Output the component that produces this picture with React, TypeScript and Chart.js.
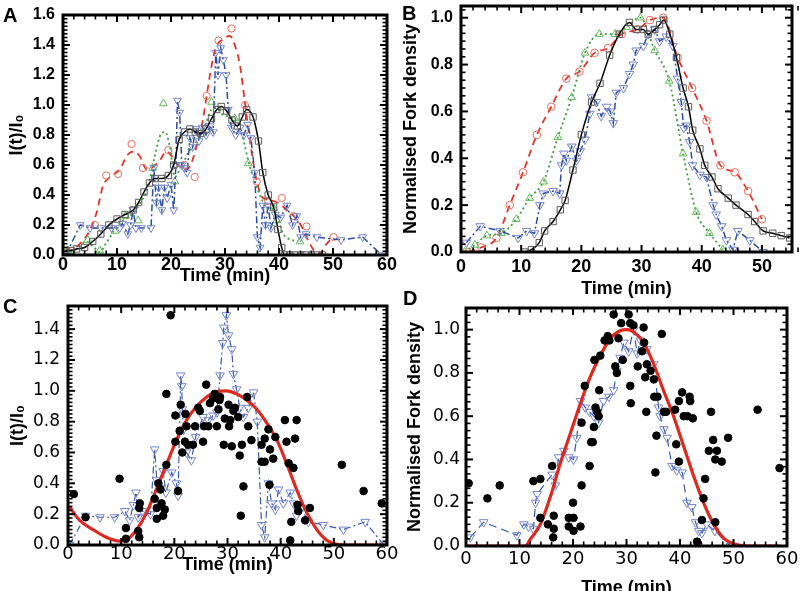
import React, { useEffect, useRef } from 'react';
import { Chart, registerables } from 'chart.js';
Chart.register(...registerables);

type P = [number, number][];

const SANS = "'Liberation Sans', Arial, sans-serif";
const WIDE = "'DejaVu Sans', sans-serif";

// ---------- Panel A ----------
const A_X_TICKS = [0, 10, 20, 30, 40, 50, 60];
const A_Y_TICKS = [0, 0.2, 0.4, 0.6, 0.8, 1.0, 1.2, 1.4, 1.6];
const A_BLACK: P = [[0.5,0.03],[1.5,0.03],[2.5,0.04],[4,0.05],[5.5,0.09],[7,0.14],[8.5,0.2],[10,0.24],[11.5,0.27],[13,0.3],[14,0.35],[15,0.42],[16,0.48],[17,0.51],[18.3,0.51],[19.5,0.53],[20.5,0.6],[21.5,0.77],[22.5,0.82],[23.5,0.84],[24.5,0.82],[25.5,0.81],[26.5,0.84],[27.5,0.91],[28.5,0.97],[29.3,0.99],[30.3,0.96],[31.3,0.9],[32.3,0.86],[33.2,0.92],[34,0.97],[35.2,0.92],[36.2,0.76],[37,0.55],[38,0.4],[39,0.32],[39.8,0.17],[40.5,0.05],[41,0],[42,0],[43,0],[44,0],[45,0],[46,0],[47,0],[48,0]];
const A_RED_LINE: P = [[0.5,0.02],[2,0.04],[3.5,0.09],[4.6,0.14],[6.2,0.28],[7.4,0.46],[8.7,0.52],[10.5,0.57],[12,0.67],[13,0.69],[14.2,0.66],[15.5,0.57],[16.4,0.58],[17.9,0.63],[19.2,0.69],[20.1,0.66],[21.3,0.6],[22.6,0.57],[23.5,0.59],[24.7,0.72],[25.7,0.86],[26.6,1.06],[27.5,1.26],[28.4,1.39],[29.7,1.44],[30.9,1.46],[31.9,1.39],[32.8,1.26],[33.7,1.01],[34.6,0.77],[35.6,0.54],[36.8,0.39],[37.7,0.37],[39,0.36],[40.2,0.34],[41.4,0.3],[42.7,0.26],[44.2,0.19],[45.5,0.09],[46.7,0.02],[47.6,0.01],[48.5,0.06],[49.5,0.1],[50.1,0.12]];
const A_RED_PTS: P = [[1,0.02],[5.9,0.2],[8,0.53],[10.2,0.54],[12.7,0.74],[14.8,0.58],[19.5,0.7],[22.5,0.6],[24.4,0.52],[26.6,1.06],[28.8,1.43],[31.2,1.51],[33.7,1.0],[35.9,0.49],[38,0.36],[40.5,0.38],[42.7,0.26],[45.1,0.19],[50.1,0.12]];
const A_GREEN_LINE: P = [[0.5,0.01],[2.5,0.04],[4.3,0.09],[5.5,0.06],[6.8,0.02],[8,0.08],[9.6,0.17],[11.1,0.23],[13,0.28],[14.2,0.34],[15.8,0.46],[17,0.66],[18.2,0.81],[18.9,0.82],[19.8,0.72],[20.7,0.52],[21.9,0.59],[23.5,0.7],[25,0.77],[26.3,0.86],[27.5,0.97],[28.4,0.98],[29.4,0.94],[30.9,0.92],[32.2,0.89],[33.4,0.77],[34.3,0.63],[35.6,0.48],[36.8,0.37],[37.7,0.31],[38.7,0.31],[39.6,0.26],[40.8,0.14],[42.4,0.1],[43.6,0.09]];
const A_GREEN_PTS: P = [[0.9,0.03],[4.6,0.1],[6.8,0.03],[9.6,0.16],[11.6,0.26],[13.9,0.23],[16.6,0.58],[18.6,1.01],[20.7,0.49],[27.5,1.02],[31.8,0.91],[34.3,0.61],[39,0.31],[39.6,0.23],[43.9,0.09]];
const A_BLUE: P = [[0.5,0],[3.2,0.2],[5,0.18],[7,0.18],[9,0.18],[10.5,0.18],[11,0.21],[12,0.14],[12.5,0.2],[13,0.3],[13.5,0.18],[14.5,0.18],[16.3,0.18],[16.8,0.58],[17.3,0.35],[17.7,0.45],[18.3,0.3],[18.8,0.45],[19.3,0.38],[20,0.47],[20.5,0.3],[20.9,0.6],[21.2,1.03],[21.6,0.95],[22,0.6],[22.5,0.58],[23,0.55],[23.5,0.78],[24,0.72],[24.6,0.84],[25.2,0.76],[25.8,0.85],[26.5,0.8],[27.2,0.86],[27.8,0.82],[28.3,1.35],[28.7,1.2],[29.2,1.38],[29.7,1.3],[30.2,1.2],[30.6,0.97],[31.2,0.85],[32,0.8],[32.8,0.85],[33.5,0.8],[34.2,0.87],[34.8,0.78],[35.5,0.55],[36,0.12],[36.5,0.05],[37,0.33],[37.5,0.2],[38,0.33],[38.5,0.18],[39.3,0.27],[40.3,0.25],[41.5,0.33],[42.5,0.2],[43.3,0.26],[44,0.12],[45,0.14],[47,0.12],[51.5,0.1],[55.5,0.12],[59,0]];

// ---------- Panel B ----------
const B_X_TICKS = [0, 10, 20, 30, 40, 50];
const B_Y_TICKS = [0, 0.2, 0.4, 0.6, 0.8, 1.0];
const B_BLACK: P = [[10.6,0],[11.7,0.01],[13,0.04],[13.9,0.09],[15.3,0.13],[16.5,0.18],[17.3,0.22],[18.6,0.35],[20,0.5],[21.7,0.64],[23.1,0.72],[24.7,0.84],[26.3,0.93],[28,0.98],[29.1,0.95],[30.3,0.95],[31.1,0.93],[32.2,0.95],[33,0.97],[33.7,0.99],[34.7,0.93],[35.8,0.83],[36.9,0.7],[37.8,0.62],[38.5,0.52],[39.7,0.44],[40.5,0.37],[41.7,0.32],[42.7,0.27],[44.4,0.23],[45.7,0.2],[47.7,0.16],[48.8,0.13],[50.2,0.09],[51.8,0.08],[53.2,0.07],[54.6,0.06]];
const B_RED: P = [[1.2,0],[3.4,0.02],[5.9,0.06],[8.1,0.2],[10.3,0.34],[12.6,0.5],[15,0.62],[17.5,0.74],[19.7,0.77],[22.2,0.85],[24.4,0.87],[26.7,0.93],[29.4,0.95],[31.4,0.99],[33.6,1.0],[36,0.83],[38.4,0.7],[40.8,0.56],[43.1,0.37],[45.5,0.34],[47.7,0.26],[50,0.14]];
const B_GREEN: P = [[0.6,0],[2.3,0.03],[4.3,0.07],[6.7,0.08],[9.2,0.14],[11.4,0.23],[13.7,0.3],[16.1,0.49],[18.4,0.66],[20.6,0.85],[23,0.93],[25.6,0.93],[27.5,0.96],[29.8,1.0],[32.2,0.86],[34.6,0.73],[36.9,0.42],[39.1,0.17],[41.3,0.08],[43.5,0.01]];
const B_BLUE: P = [[0.9,0.04],[3.2,0.11],[6.5,0.09],[9.5,0.06],[10.9,0.09],[12.2,0.08],[13.1,0.2],[13.7,0.25],[15.3,0.26],[16.4,0.25],[16.7,0.37],[17.1,0.42],[17.5,0.39],[18.4,0.45],[19.2,0.39],[19.8,0.43],[20.6,0.48],[21.4,0.59],[21.7,0.66],[22.5,0.64],[23.3,0.58],[24.2,0.62],[24.8,0.6],[25.3,0.55],[25.8,0.68],[27,0.7],[28,0.76],[28.6,0.8],[29.1,0.86],[30.3,0.88],[31.1,0.93],[32.2,0.95],[33,0.9],[34.1,0.92],[35.2,0.88],[36,0.74],[36.6,0.64],[37,0.53],[37.4,0.54],[38,0.47],[38.5,0.37],[39.7,0.33],[40.8,0.32],[41.9,0.2],[42.4,0.16],[43.3,0.11],[44.1,0.05],[45.2,0.01],[46,0.09],[48,0.05],[50.2,0]];

// ---------- Panel C ----------
const C_X_TICKS = [0, 10, 20, 30, 40, 50, 60];
const C_Y_TICKS = [0, 0.2, 0.4, 0.6, 0.8, 1.0, 1.2, 1.4];
const C_RED: P = [[0.2,0.25],[2.2,0.16],[4.7,0.1],[7.2,0.05],[9.7,0.025],[11.3,0.04],[12.9,0.1],[14.8,0.21],[16.6,0.36],[18.5,0.52],[20.4,0.68],[22.3,0.81],[24.2,0.9],[26.1,0.96],[27.9,0.995],[29.8,1.0],[31.7,0.98],[33.6,0.94],[35.5,0.88],[37.4,0.79],[39.3,0.68],[41.1,0.53],[43,0.36],[44.9,0.21],[46.8,0.1],[48.7,0.03],[50.6,0.005],[52.4,0],[56,0],[60,0]];
const C_BLUE: P = [[0.3,0],[3.3,0.19],[6,0.18],[8.8,0.18],[10.7,0.22],[11.6,0.16],[12.3,0.26],[12.8,0.34],[13.2,0.18],[14,0.22],[15.5,0.2],[16.3,0.62],[16.7,0.42],[17.3,0.37],[17.9,0.48],[18.4,0.34],[19.5,0.47],[20.4,0.4],[20.7,0.32],[21.2,1.1],[21.4,1.03],[21.5,0.88],[21.7,0.75],[22.3,0.6],[23.2,0.55],[24,0.7],[25.4,0.83],[26.4,0.81],[27.3,0.84],[28,0.86],[28.6,1.1],[29.1,1.31],[29.3,1.41],[29.8,1.49],[30.2,1.36],[30.8,1.27],[31.1,1.11],[31.7,1.01],[32.3,0.89],[33,0.83],[33.9,0.89],[34.9,0.99],[35.6,0.8],[36.4,0.13],[37,0.05],[37.7,0.4],[38.3,0.27],[39,0.23],[39.6,0.36],[40.5,0.27],[41.8,0.34],[42.4,0.27],[43,0.19],[43.9,0.24],[45.2,0.15],[48,0.13],[51.8,0.1],[55.9,0.15],[59.4,0]];
const C_DOTS: P = [[1.1,0.33],[3.3,0.18],[9.7,0.43],[10.9,0.11],[10.9,0.04],[13.2,0.09],[13.4,0.05],[13.5,0.27],[13.4,0.24],[16.3,0.3],[16.7,0.24],[16.7,0.17],[17,0.4],[17.4,0.36],[17.6,0.27],[17.9,0.19],[18.2,0.23],[18.5,0.52],[18.5,0.98],[19.3,1.49],[20.2,0.84],[20.2,0.67],[20.7,0.35],[21,0.74],[21.2,0.91],[21.5,0.6],[22,0.67],[22.1,0.85],[22.3,0.77],[22.6,0.65],[23.5,0.65],[23.9,0.77],[24.5,0.89],[24.8,0.87],[25.4,0.67],[25.6,0.77],[26,1.04],[26.4,0.77],[26.7,0.92],[27.3,0.95],[27.6,0.98],[28,0.77],[28.3,0.88],[28.5,0.94],[28.6,0.96],[29.3,0.65],[29.5,0.82],[30.2,0.91],[30.3,0.77],[30.5,0.81],[30.8,0.64],[31.1,0.87],[31.4,0.89],[32,0.83],[32.3,0.58],[32.7,0.65],[33,0.38],[32.5,0.19],[33.9,0.77],[33.7,0.96],[34.5,0.68],[36.4,0.65],[36.4,0.54],[37,0.54],[37,0.69],[37.7,0.75],[38,0.62],[37.9,0.39],[38.6,0.56],[39,0.7],[40.8,0.81],[41.1,0.67],[41.5,0.53],[41.8,0.03],[42,0.15],[42.4,0.5],[42.7,0.69],[43,0.81],[43.2,0.26],[43.3,0.22],[44.6,0.16],[45.5,0.24],[51.5,0.52],[55.6,0.35],[59,0.27]];

// ---------- Panel D ----------
const D_X_TICKS = [0, 10, 20, 30, 40, 50, 60];
const D_Y_TICKS = [0, 0.2, 0.4, 0.6, 0.8, 1.0];
const D_RED: P = [[0,0],[5,0],[11.1,0],[12,0.03],[13.9,0.1],[15.8,0.23],[17.6,0.38],[19.5,0.52],[21.4,0.66],[23.2,0.78],[25.1,0.88],[27,0.96],[28.8,0.995],[30.1,1.0],[31.3,0.99],[33.2,0.94],[35.1,0.84],[36.9,0.72],[38.8,0.6],[40.7,0.46],[42.6,0.32],[44.4,0.2],[46.3,0.1],[48.2,0.035],[50,0.01],[52.5,0],[58.8,0]];
const D_BLUE: P = [[0.8,0.04],[3.3,0.11],[9.5,0.05],[10.8,0.1],[11.7,0.09],[12.6,0.08],[13,0.2],[13.3,0.24],[16.1,0.33],[16.7,0.28],[17.3,0.41],[18.3,0.44],[19.2,0.41],[20.1,0.4],[20.7,0.5],[21.4,0.67],[22.3,0.64],[23.1,0.62],[23.9,0.6],[24.8,0.57],[25.7,0.67],[26.7,0.69],[27.6,0.72],[28.2,0.81],[28.8,0.87],[29.5,0.94],[30.4,0.9],[31.3,1.0],[32,0.89],[32.6,0.95],[33.8,0.91],[35.1,0.84],[36,0.64],[36.3,0.6],[37,0.54],[37.6,0.5],[38.5,0.37],[39.4,0.35],[40.4,0.34],[41.3,0.2],[42.2,0.18],[42.9,0.11],[43.5,0.07],[44.1,0.06],[45,0.1],[46.5,0.07],[49.4,0]];
const D_DOTS: P = [[0.5,0.29],[4,0.22],[6.3,0.28],[12.6,0.3],[13.9,0.31],[13.9,0.13],[15.3,0.1],[16.1,0.37],[16.4,0.14],[16.4,0.08],[16.3,0.04],[19.2,0.13],[19.2,0.09],[20,0.2],[20.1,0.13],[20.1,0.07],[21.4,0.09],[21.6,0.28],[21.6,0.57],[22.2,0.74],[23.1,0.37],[23.4,0.48],[23.7,0.48],[23.9,0.55],[24,0.86],[24.2,0.64],[24.5,0.62],[24.8,0.6],[24.9,0.72],[25.1,0.88],[25.9,0.95],[26.5,0.97],[26.8,0.95],[27.6,1.07],[27.9,0.83],[28.2,0.8],[28.5,0.96],[29,1.03],[29.3,0.86],[30.4,1.07],[30.7,1.03],[30.7,0.74],[30.8,0.66],[31.3,1.02],[32.1,0.83],[33.2,1.01],[32.9,0.9],[33.3,0.94],[33.5,0.78],[33.8,0.84],[33.7,0.62],[34.5,0.81],[35.1,0.77],[35.2,0.69],[35.6,0.51],[35.4,0.34],[35.8,0.69],[36.6,0.98],[37,0.62],[37.4,0.62],[39.1,0.63],[39.3,0.47],[39.8,0.39],[39.8,0.67],[40.4,0.71],[40.7,0.6],[41.4,0.6],[41.8,0.69],[41.9,0.67],[42.4,0.59],[43.2,0.02],[44.1,0.12],[44.4,0.22],[44.7,0.31],[45.4,0.44],[45.8,0.62],[46.2,0.49],[46.6,0.11],[46.6,0.4],[46.9,0.44],[47.8,0.39],[49,0.5],[54.5,0.63],[58.6,0.36]];

// ---------- helpers ----------
const xy = (d: P) => d.map(([x, y]) => ({ x, y }));

function lineDs(data: P, color: string, dash: number[], width = 1.6, smooth = true) {
  return {
    data: xy(data), borderColor: color, borderWidth: width, borderDash: dash,
    pointRadius: 0, fill: false, showLine: true,
    tension: smooth ? 0.4 : 0, cubicInterpolationMode: smooth ? 'monotone' : 'default',
  };
}
function markDs(data: P, color: string, style: string, radius: number, rotation = 0, filled = false) {
  return {
    data: xy(data), showLine: false, borderColor: color, backgroundColor: color,
    pointStyle: style, pointRadius: radius, pointRotation: rotation,
    pointBorderColor: color, pointBackgroundColor: filled ? color : 'rgba(0,0,0,0)',
    pointBorderWidth: 1,
  };
}
function both(data: P, lineColor: string, dash: number[], markColor: string, style: string, radius: number, rotation = 0, smooth = true, width = 1.5) {
  return {
    ...markDs(data, markColor, style, radius, rotation),
    ...{ borderColor: lineColor, borderWidth: width, borderDash: dash, showLine: true, fill: false,
      tension: smooth ? 0.4 : 0, cubicInterpolationMode: smooth ? 'monotone' : 'default' },
  };
}

const RED = '#e3342b', RED_M = '#ec6b5c';
const GREEN = '#3f9e3f', GREEN_M = '#62b95a';
const BLUE = '#2c4c9c', BLUE_M = '#7585cc';
const DASH = [7, 5], DOT = [2, 3], DASHDOT = [7, 3, 2, 3];

type Cfg = any;

function makeFrame(c: Cfg) {
  return {
    id: 'frame',
    afterDraw(chart: any) {
      const ctx = chart.ctx;
      const area = chart.chartArea;
      const left = area.left, right = area.right, top = area.top, bottom = area.bottom;
      const xs = chart.scales.x, ys = chart.scales.y;
      ctx.save();
      ctx.fillStyle = '#000000';
      const xMajor = c.xTicks as number[], yMajor = c.yTicks as number[];
      const nx = Math.round((c.xMax - c.xMin) / c.xMinor);
      for (let i = 0; i <= nx; i++) {
        const v = c.xMin + i * c.xMinor;
        const isMajor = xMajor.some((m) => Math.abs(m - v) < 1e-6);
        const len = isMajor ? 7 : 4.5;
        const w = isMajor ? 2 : 1.6;
        const px = xs.getPixelForValue(v);
        ctx.fillRect(px - w / 2, bottom - len, w, len);
        ctx.fillRect(px - w / 2, top, w, len);
      }
      const ny = Math.floor((c.yMax - c.yMin) / c.yMinor + 1e-6);
      for (let i = 0; i <= ny; i++) {
        const v = c.yMin + i * c.yMinor;
        const isMajor = yMajor.some((m) => Math.abs(m - v) < 1e-6);
        const len = isMajor ? 7 : 4.5;
        const w = isMajor ? 2 : 1.6;
        const py = ys.getPixelForValue(v);
        ctx.fillRect(left, py - w / 2, len, w);
        ctx.fillRect(right - len, py - w / 2, len, w);
      }
      ctx.setLineDash([]);
      ctx.strokeStyle = '#000000';
      ctx.lineWidth = 3;
      ctx.strokeRect(left, top, right - left, bottom - top);
      ctx.restore();
    },
  };
}

function buildConfig(c: Cfg) {
  return {
    type: 'line',
    data: { datasets: c.datasets },
    options: {
      responsive: false, animation: false, devicePixelRatio: 1,
      layout: { padding: c.padding },
      plugins: { legend: { display: false }, tooltip: { enabled: false } },
      scales: {
        x: {
          type: 'linear', min: c.xMin, max: c.xMax,
          afterBuildTicks: (s: any) => { s.ticks = c.xTicks.map((v: number) => ({ value: v })); },
          afterFit: (s: any) => { s.height = c.xHeight; s.paddingLeft = 0; s.paddingRight = 0; },
          grid: { display: false, drawTicks: false }, border: { display: false },
          ticks: { font: c.xTickFont, color: '#000', padding: c.xTickPad, maxRotation: 0, autoSkip: false, callback: (v: any) => String(v) },
          title: { display: true, text: 'Time (min)', font: c.titleFont, color: '#000', padding: { top: 0, bottom: c.xTitlePad } },
        },
        y: {
          type: 'linear', min: c.yMin, max: c.yMax,
          afterBuildTicks: (s: any) => { s.ticks = c.yTicks.map((v: number) => ({ value: v })); },
          afterFit: (s: any) => { s.width = c.yWidth; s.paddingTop = 0; s.paddingBottom = 0; },
          grid: { display: false, drawTicks: false }, border: { display: false },
          ticks: { font: c.yTickFont, color: '#000', padding: c.yTickPad, autoSkip: false, callback: (v: any) => Number(v).toFixed(1) },
          title: { display: true, text: c.yTitle, font: c.titleFont, color: '#000', padding: { top: c.yTitlePad, bottom: 0 } },
        },
      },
    },
    plugins: [makeFrame(c)],
  };
}

const TITLE_FONT = { family: SANS, size: 18, weight: 'bold', lineHeight: 1.2 };
const BOLD_Y = { family: SANS, size: 16, weight: 'bold', lineHeight: 1 };
const BOLD_X = { family: SANS, size: 18, weight: 'bold', lineHeight: 1 };
const REG_Y = { family: WIDE, size: 17, weight: 'normal', lineHeight: 1 };
const REG_X = { family: WIDE, size: 18, weight: 'normal', lineHeight: 1 };

const PANELS: Cfg[] = [
  {
    left: 0, top: 0, w: 400, h: 300,
    padding: { top: 15, right: 13, left: 0, bottom: 0 }, yWidth: 63, xHeight: 45,
    xMin: 0, xMax: 60, yMin: 0, yMax: 1.6, xTicks: A_X_TICKS, yTicks: A_Y_TICKS, xMinor: 2, yMinor: 0.025,
    xTickFont: BOLD_X, yTickFont: BOLD_Y, titleFont: TITLE_FONT, xTickPad: 1, yTickPad: 8, xTitlePad: 13, yTitlePad: 6,
    yTitle: 'I(t)/I₀',
    datasets: [
      both(A_BLACK, '#000000', [], '#5a5a5a', 'rect', 4.5, 0, true, 1.5),
      both(A_BLUE, BLUE, DASHDOT, BLUE_M, 'triangle', 4.5, 180, false, 1.5),
      markDs(A_GREEN_PTS, GREEN_M, 'triangle', 4.5),
      lineDs(A_GREEN_LINE, GREEN, DOT, 1.8),
      markDs(A_RED_PTS, RED_M, 'circle', 3.6),
      lineDs(A_RED_LINE, RED, DASH, 1.8),
    ],
  },
  {
    left: 400, top: 0, w: 400, h: 300,
    padding: { top: 4, right: 8, left: 0, bottom: 0 }, yWidth: 61, xHeight: 48,
    xMin: 0, xMax: 55, yMin: 0, yMax: 1.05, xTicks: B_X_TICKS, yTicks: B_Y_TICKS, xMinor: 2, yMinor: 0.2 / 6,
    xTickFont: BOLD_X, yTickFont: BOLD_Y, titleFont: TITLE_FONT, xTickPad: 6, yTickPad: 8, xTitlePad: 0, yTitlePad: 0,
    yTitle: 'Normalised Fork density',
    datasets: [
      both(B_BLACK, '#000000', [], '#5a5a5a', 'rect', 4.5, 0, true, 1.5),
      both(B_BLUE, BLUE, DASHDOT, BLUE_M, 'triangle', 5, 180, false, 1.5),
      both(B_GREEN, GREEN, DOT, GREEN_M, 'triangle', 4.5, 0, true, 1.8),
      both(B_RED, RED, DASH, RED_M, 'circle', 3.8, 0, true, 1.8),
    ],
  },
  {
    left: 0, top: 290, w: 400, h: 301,
    padding: { top: 16, right: 13, left: 0, bottom: 0 }, yWidth: 68, xHeight: 46,
    xMin: 0, xMax: 60, yMin: 0, yMax: 1.55, xTicks: C_X_TICKS, yTicks: C_Y_TICKS, xMinor: 2, yMinor: 0.025,
    xTickFont: REG_X, yTickFont: REG_Y, titleFont: TITLE_FONT, xTickPad: 0, yTickPad: 8, xTitlePad: 15, yTitlePad: 7,
    yTitle: 'I(t)/I₀',
    datasets: [
      markDs(C_DOTS, '#000000', 'circle', 3.8, 0, true),
      lineDs(C_RED, '#dc2a20', [], 3.2),
      both(C_BLUE, '#3a58a8', DASHDOT, BLUE_M, 'triangle', 5, 180, false, 1.2),
    ],
  },
  {
    left: 400, top: 290, w: 400, h: 320,
    padding: { top: 18, right: 13, left: 0, bottom: 0 }, yWidth: 66, xHeight: 64,
    xMin: 0, xMax: 60, yMin: 0, yMax: 1.1, xTicks: D_X_TICKS, yTicks: D_Y_TICKS, xMinor: 2, yMinor: 0.2 / 6,
    xTickFont: REG_X, yTickFont: REG_Y, titleFont: TITLE_FONT, xTickPad: 4, yTickPad: 6, xTitlePad: 11, yTitlePad: 4,
    yTitle: 'Normalised Fork density',
    datasets: [
      markDs(D_DOTS, '#000000', 'circle', 3.8, 0, true),
      lineDs(D_RED, '#dc2a20', [], 3.2),
      both(D_BLUE, '#3a58a8', [8, 5], BLUE_M, 'triangle', 5, 180, false, 1.2),
    ],
  },
];

function Panel({ c }: { c: Cfg }) {
  const ref = useRef<HTMLCanvasElement>(null);
  useEffect(() => {
    const chart = new Chart(ref.current as HTMLCanvasElement, buildConfig(c) as any);
    return () => chart.destroy();
  }, [c]);
  return (
    <canvas ref={ref} width={c.w} height={c.h}
      style={{ position: 'absolute', left: c.left, top: c.top, width: c.w, height: c.h }} />
  );
}

const LETTERS = [
  { t: 'A', left: 3, top: 5 },
  { t: 'B', left: 402, top: 3 },
  { t: 'C', left: 3, top: 296 },
  { t: 'D', left: 403, top: 288 },
];

export default function App() {
  return (
    <div style={{ position: 'absolute', left: 0, top: 0, width: 800, height: 591, overflow: 'hidden', background: '#fff' }}>
      {PANELS.map((c, i) => <Panel key={i} c={c} />)}
      {LETTERS.map((l) => (
        <div key={l.t} style={{ position: 'absolute', left: l.left, top: l.top, font: `bold 20px ${SANS}`, lineHeight: 1, color: '#000' }}>{l.t}</div>
      ))}
    </div>
  );
}
